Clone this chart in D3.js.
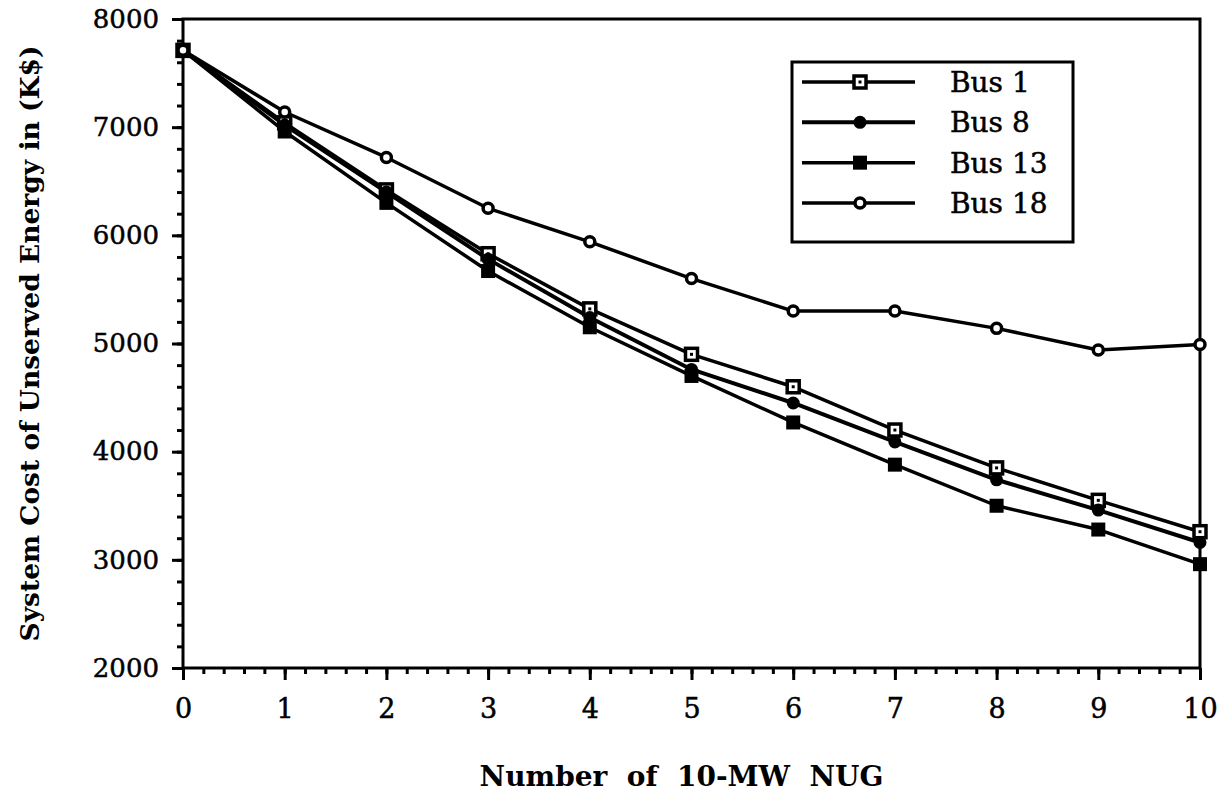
<!DOCTYPE html>
<html>
<head>
<meta charset="utf-8">
<script src="https://cdn.jsdelivr.net/npm/d3@7"></script>
<style>
  body { margin: 0; background: #fff; }
  svg text { font-family: "DejaVu Serif", serif; fill: #000; }
  .axis path, .axis line { stroke: #000; stroke-width: 3; }
  .heavy { stroke: #000; stroke-width: 0.5; }
</style>
</head>
<body>
<svg id="chart" width="1227" height="796"></svg>
<script>
// Data
const nugCounts = [0, 1, 2, 3, 4, 5, 6, 7, 8, 9, 10];
const bus1  = [7710, 7040, 6420, 5830, 5320, 4900, 4600, 4200, 3850, 3550, 3260];
const bus8  = [7710, 7020, 6400, 5780, 5240, 4760, 4450, 4090, 3740, 3460, 3160];
const bus13 = [7710, 6960, 6300, 5670, 5150, 4700, 4270, 3880, 3500, 3280, 2960];
const bus18 = [7710, 7140, 6720, 6250, 5940, 5600, 5300, 5300, 5140, 4940, 4990];
const seriesNames = ['Bus 1', 'Bus 8', 'Bus 13', 'Bus 18'];
const xTicks = [0, 1, 2, 3, 4, 5, 6, 7, 8, 9, 10];
const yTicks = [2000, 3000, 4000, 5000, 6000, 7000, 8000];

const series = [
  { name: seriesNames[0], values: bus1,  marker: 'openSquare' },
  { name: seriesNames[1], values: bus8,  marker: 'dot' },
  { name: seriesNames[2], values: bus13, marker: 'square' },
  { name: seriesNames[3], values: bus18, marker: 'openCircle' }
];

const svg = d3.select('#chart');

// Plot box
const plotLeft = 183, plotRight = 1200, plotTop = 19, plotBottom = 668;

const x = d3.scaleLinear().domain([0, 10]).range([plotLeft, plotRight]);
const y = d3.scaleLinear().domain([2000, 8000]).range([plotBottom, plotTop]);

// Minor ticks first (short), then major ticks with labels
svg.append('g')
  .attr('class', 'axis')
  .attr('transform', `translate(0,${plotBottom})`)
  .call(d3.axisBottom(x).tickValues(d3.range(0, 10.01, 0.2)).tickSize(6).tickFormat(''))
  .call(g => g.select('.domain').remove());

svg.append('g')
  .attr('class', 'axis')
  .attr('transform', `translate(${plotLeft},0)`)
  .call(d3.axisLeft(y).tickValues(d3.range(2000, 8001, 200)).tickSize(6).tickFormat(''))
  .call(g => g.select('.domain').remove());

const xAxis = svg.append('g')
  .attr('class', 'axis')
  .attr('transform', `translate(0,${plotBottom})`)
  .call(d3.axisBottom(x).tickValues(xTicks).tickSize(12).tickSizeOuter(0).tickPadding(19).tickFormat(d3.format('d')));
xAxis.select('.domain').remove();
xAxis.selectAll('text').attr('font-size', 27).attr('class', 'heavy');

const yAxis = svg.append('g')
  .attr('class', 'axis')
  .attr('transform', `translate(${plotLeft},0)`)
  .call(d3.axisLeft(y).tickValues(yTicks).tickSize(11).tickSizeOuter(0).tickPadding(13).tickFormat(d3.format('d')));
yAxis.select('.domain').remove();
yAxis.selectAll('text').attr('font-size', 26).attr('class', 'heavy');

// Frame
svg.append('rect')
  .attr('x', plotLeft).attr('y', plotTop)
  .attr('width', plotRight - plotLeft).attr('height', plotBottom - plotTop)
  .attr('fill', 'none').attr('stroke', '#000').attr('stroke-width', 3);

// Lines
const line = d3.line()
  .x((d, i) => x(nugCounts[i]))
  .y(d => y(d));

const plot = svg.append('g');

plot.selectAll('.series-line')
  .data(series)
  .join('path')
  .attr('class', 'series-line')
  .attr('d', d => line(d.values))
  .attr('fill', 'none')
  .attr('stroke', '#000')
  .attr('stroke-width', d => d.marker === 'dot' ? 4 : 3.5)
  .attr('stroke-linejoin', 'round');

// Markers
function drawMarker(g, type, cx, cy) {
  if (type === 'openSquare') {
    g.append('rect').attr('x', cx - 6).attr('y', cy - 6).attr('width', 12).attr('height', 12)
      .attr('fill', '#fff').attr('stroke', '#000').attr('stroke-width', 3.5);
    g.append('rect').attr('x', cx - 1.5).attr('y', cy - 1.5).attr('width', 3).attr('height', 3).attr('fill', '#000');
  } else if (type === 'dot') {
    g.append('circle').attr('cx', cx).attr('cy', cy).attr('r', 6.5).attr('fill', '#000');
  } else if (type === 'square') {
    g.append('rect').attr('x', cx - 7).attr('y', cy - 7).attr('width', 14).attr('height', 14).attr('fill', '#000');
  } else {
    g.append('circle').attr('cx', cx).attr('cy', cy).attr('r', 5)
      .attr('fill', '#fff').attr('stroke', '#000').attr('stroke-width', 3.5);
  }
}

series.forEach(s => {
  const g = plot.append('g');
  s.values.forEach((v, i) => drawMarker(g, s.marker, x(nugCounts[i]), y(v)));
});

// Legend
const legend = svg.append('g').attr('transform', 'translate(792,62)');
legend.append('rect')
  .attr('width', 281).attr('height', 180)
  .attr('fill', '#fff').attr('stroke', '#000').attr('stroke-width', 3);

const rowY = d3.scalePoint().domain(seriesNames).range([20, 141]);
series.forEach(s => {
  const ry = rowY(s.name);
  const row = legend.append('g');
  row.append('line')
    .attr('x1', 10).attr('x2', 123).attr('y1', ry).attr('y2', ry)
    .attr('stroke', '#000').attr('stroke-width', s.marker === 'dot' ? 4 : 3.5);
  drawMarker(row, s.marker, 68, ry);
  row.append('text')
    .attr('class', 'heavy')
    .attr('x', 158).attr('y', ry)
    .attr('dy', '0.36em')
    .attr('font-size', 28)
    .text(s.name);
});

// Axis titles
svg.append('text')
  .attr('x', (plotLeft + plotRight) / 2 - 10)
  .attr('y', 786)
  .attr('text-anchor', 'middle')
  .attr('font-size', 28)
  .attr('font-weight', 'bold')
  .style('white-space', 'pre')
  .text('Number  of  10-MW  NUG');

svg.append('text')
  .attr('transform', `translate(39,${(plotTop + plotBottom) / 2}) rotate(-90)`)
  .attr('text-anchor', 'middle')
  .attr('font-size', 26.5)
  .attr('font-weight', 'bold')
  .text('System Cost of Unserved Energy in (K$)');
</script>
</body>
</html>
